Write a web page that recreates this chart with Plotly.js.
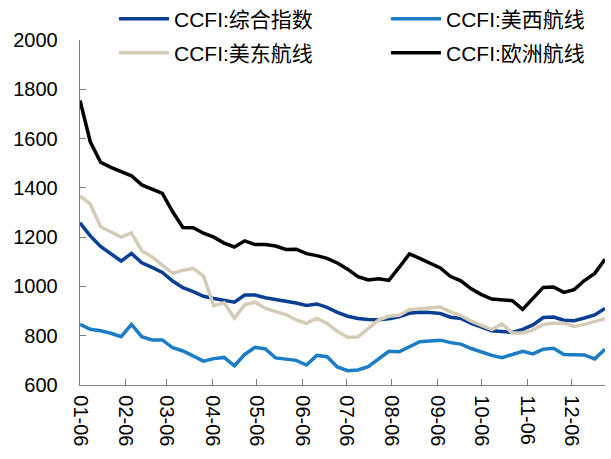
<!DOCTYPE html>
<html>
<head>
<meta charset="utf-8">
<script src="https://cdn.plot.ly/plotly-3.0.1.min.js"></script>
<style>html,body{margin:0;padding:0;background:#fff;}#chart{width:611px;height:459px;}</style>
</head>
<body>
<div id="chart"></div>
<script>
// Weekly dates (Fridays)
const dates = ['2023-01-06','2023-01-13','2023-01-20','2023-01-27','2023-02-03','2023-02-10','2023-02-17','2023-02-24',
'2023-03-03','2023-03-10','2023-03-17','2023-03-24','2023-03-31','2023-04-07','2023-04-14','2023-04-21','2023-04-28',
'2023-05-05','2023-05-12','2023-05-19','2023-05-26','2023-06-02','2023-06-09','2023-06-16','2023-06-23','2023-06-30',
'2023-07-07','2023-07-14','2023-07-21','2023-07-28','2023-08-04','2023-08-11','2023-08-18','2023-08-25',
'2023-09-01','2023-09-08','2023-09-15','2023-09-22','2023-09-29','2023-10-06','2023-10-13','2023-10-20','2023-10-27',
'2023-11-03','2023-11-10','2023-11-17','2023-11-24','2023-12-01','2023-12-08','2023-12-15','2023-12-22','2023-12-29'];

const seriesNames = ['CCFI:综合指数','CCFI:美西航线','CCFI:美东航线','CCFI:欧洲航线'];

const composite = [1258,1205,1162,1134,1103,1134,1096,1077,1057,1022,995,979,960,951,944,936,965,965,954,948,940,933,923,929,915,895,879,870,866,865,869,877,891,895,894,890,875,870,850,836,820,817,813,826,844,874,876,863,861,872,884,911];
const usWest = [846,826,820,810,796,846,796,783,783,751,738,717,697,707,712,678,724,753,746,710,705,700,681,720,715,673,658,661,674,706,737,735,757,776,779,782,772,766,748,733,720,711,724,737,726,745,749,724,723,722,706,745];
const usEast = [1367,1334,1242,1219,1200,1217,1145,1120,1087,1053,1066,1073,1042,921,934,871,925,936,911,899,886,864,850,871,850,818,794,795,828,864,879,883,906,909,913,916,897,882,859,841,825,848,811,811,824,846,851,851,838,846,857,869];
const europe = [1755,1587,1504,1483,1466,1449,1412,1395,1378,1303,1239,1238,1216,1200,1176,1160,1185,1170,1170,1164,1150,1151,1133,1125,1114,1095,1070,1040,1026,1031,1025,1077,1132,1114,1094,1075,1040,1023,990,967,949,945,942,907,954,996,998,976,987,1024,1053,1110];

const colors = ['#0B3F94','#1A7DC6','#D5CCB8','#000000'];
const values = [composite, usWest, usEast, europe];
const legendIds = ['legend','legend2','legend3','legend4'];

const traces = values.map((v, k) => ({
  type: 'scatter', mode: 'lines', x: dates, y: v, name: seriesNames[k],
  line: {color: colors[k], width: 3.5}, legend: legendIds[k], hoverinfo: 'x+y'
}));

const fontFam = 'Liberation Sans, Arial, Noto Sans CJK SC, sans-serif';
function legendAt(xPx, yPx) {
  return {
    orientation: 'v', xref: 'container', yref: 'container', xanchor: 'left', yanchor: 'middle',
    x: xPx / 611, y: 1 - yPx / 459, itemwidth: 50,
    bgcolor: 'rgba(0,0,0,0)', borderwidth: 0,
    font: {family: fontFam, size: 21, color: '#000'}
  };
}

const layout = {
  width: 611, height: 459,
  margin: {l: 80, r: 5.5, t: 40, b: 74, autoexpand: false},
  paper_bgcolor: '#fff', plot_bgcolor: '#fff',
  font: {family: fontFam, size: 20, color: '#000'},
  showlegend: true,
  legend: legendAt(114, 19),
  legend2: legendAt(386, 19),
  legend3: legendAt(114, 53),
  legend4: legendAt(386, 53),
  xaxis: {
    type: 'date', range: ['2023-01-06', '2023-12-29'],
    tick0: '2023-01-06', dtick: 'M1', tickformat: '%m-%d', tickangle: 90,
    ticks: 'inside', ticklen: 6, tickcolor: '#7f7f7f', tickwidth: 1,
    showline: true, linecolor: '#7f7f7f', linewidth: 1.3,
    showgrid: false, zeroline: false, ticklabelstandoff: 5,
    tickfont: {family: fontFam, size: 20, color: '#000'}
  },
  yaxis: {
    range: [600, 2000], tick0: 600, dtick: 200,
    ticks: 'inside', ticklen: 6, tickcolor: '#7f7f7f', tickwidth: 1,
    showline: true, linecolor: '#7f7f7f', linewidth: 1.3,
    showgrid: false, zeroline: false, ticklabelstandoff: 17,
    tickfont: {family: fontFam, size: 20, color: '#000'}
  }
};

Plotly.newPlot('chart', traces, layout, {displayModeBar: false, staticPlot: true});
</script>
</body>
</html>
